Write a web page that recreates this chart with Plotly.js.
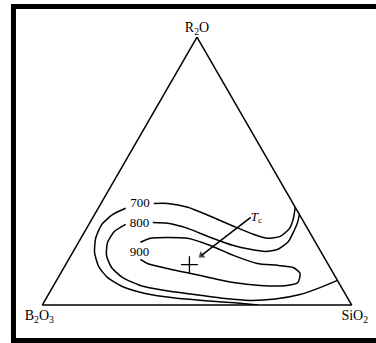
<!DOCTYPE html>
<html>
<head>
<meta charset="utf-8">
<script src="https://cdn.plot.ly/plotly-3.0.1.min.js"></script>
<style>
  html, body { margin: 0; padding: 0; background: #fff; }
  #chart { width: 376px; height: 343px; }
</style>
</head>
<body>
<div id="chart"></div>
<script>
// Compositions as mole fractions [R2O, B2O3, SiO2]

// 700 isotherm, split where its label sits
const iso700Upper = [
  [0.379, 0.450, 0.171], [0.379, 0.405, 0.216], [0.365, 0.347, 0.288],
  [0.331, 0.291, 0.378], [0.294, 0.235, 0.471], [0.264, 0.186, 0.550],
  [0.249, 0.148, 0.603], [0.256, 0.103, 0.641], [0.286, 0.058, 0.656],
  [0.323, 0.027, 0.650], [0.365, 0.000, 0.635]
];
const iso700Lower = [
  [0.361, 0.550, 0.089], [0.338, 0.603, 0.059], [0.301, 0.657, 0.042],
  [0.249, 0.703, 0.048], [0.196, 0.733, 0.071], [0.144, 0.746, 0.110],
  [0.103, 0.738, 0.159], [0.069, 0.707, 0.224], [0.043, 0.646, 0.311],
  [0.026, 0.558, 0.416], [0.015, 0.451, 0.534], [0.008, 0.374, 0.619],
  [0.000, 0.303, 0.697]
];

// 800 isotherm
const iso800Upper = [
  [0.308, 0.489, 0.203], [0.305, 0.442, 0.253], [0.286, 0.387, 0.327],
  [0.252, 0.330, 0.418], [0.222, 0.271, 0.507], [0.208, 0.224, 0.568],
  [0.200, 0.179, 0.621], [0.208, 0.134, 0.658], [0.237, 0.086, 0.677],
  [0.279, 0.046, 0.675], [0.308, 0.021, 0.671], [0.338, 0.000, 0.662]
];
const iso800Lower = [
  [0.301, 0.580, 0.119], [0.275, 0.629, 0.096], [0.234, 0.672, 0.094],
  [0.185, 0.700, 0.115], [0.140, 0.706, 0.154], [0.103, 0.690, 0.207],
  [0.073, 0.647, 0.280], [0.054, 0.576, 0.370], [0.039, 0.487, 0.474],
  [0.024, 0.397, 0.578], [0.017, 0.321, 0.663], [0.022, 0.237, 0.741],
  [0.039, 0.148, 0.813], [0.065, 0.070, 0.865], [0.092, 0.000, 0.908]
];

// 900 isotherm, a closed loop left open at its label
const iso900 = [
  [0.234, 0.566, 0.200], [0.249, 0.526, 0.225], [0.252, 0.469, 0.279],
  [0.249, 0.406, 0.345], [0.222, 0.346, 0.432], [0.185, 0.290, 0.525],
  [0.155, 0.228, 0.617], [0.148, 0.167, 0.685], [0.140, 0.119, 0.741],
  [0.118, 0.108, 0.774], [0.084, 0.132, 0.784], [0.073, 0.173, 0.754],
  [0.073, 0.260, 0.667], [0.084, 0.341, 0.575], [0.110, 0.434, 0.456],
  [0.136, 0.528, 0.336], [0.155, 0.583, 0.262], [0.170, 0.598, 0.232]
];

// Isotherm labels
const isoLabels = ['700', '800', '900'];
const isoLabelPos = [
  [0.379, 0.495, 0.126], [0.305, 0.533, 0.162], [0.196, 0.588, 0.216]
];

// Critical point Tc and the arrow pointing to it
const tcPoint = [0.151, 0.449, 0.400];
const tcArrow = [[0.327, 0.163, 0.510], [0.185, 0.393, 0.422]];
const tcText = '<i>T</i><sub>c</sub>';

const apexLabels = ['R<sub>2</sub>O', 'B<sub>2</sub>O<sub>3</sub>', 'SiO<sub>2</sub>'];

const col = i => arr => arr.map(p => p[i]);
const A = col(0), B = col(1), C = col(2);

const serif = 'Liberation Serif, Times New Roman, serif';
const ink = '#000';
const lineStyle = { color: ink, width: 1.5, shape: 'spline', smoothing: 0.6 };

function curve(pts) {
  return {
    type: 'scatterternary', mode: 'lines',
    a: A(pts), b: B(pts), c: C(pts),
    line: lineStyle, hoverinfo: 'skip'
  };
}

const traces = [
  curve(iso700Upper), curve(iso700Lower),
  curve(iso800Upper), curve(iso800Lower),
  curve(iso900),
  {
    type: 'scatterternary', mode: 'text',
    a: A(isoLabelPos), b: B(isoLabelPos), c: C(isoLabelPos),
    text: isoLabels, textposition: 'middle center',
    textfont: { family: serif, size: 13, color: ink },
    cliponaxis: false, hoverinfo: 'skip'
  },
  {
    type: 'scatterternary', mode: 'lines+markers',
    a: A(tcArrow), b: B(tcArrow), c: C(tcArrow),
    line: { color: ink, width: 1.5 },
    marker: { symbol: 'triangle-up', size: [0, 7], angle: [0, 232], color: ink,
              line: { width: 0 } },
    hoverinfo: 'skip'
  },
  {
    type: 'scatterternary', mode: 'markers',
    a: [tcPoint[0]], b: [tcPoint[1]], c: [tcPoint[2]],
    marker: { symbol: 'cross-thin', size: 12, line: { color: ink, width: 1.3 } },
    hoverinfo: 'skip'
  },
  {
    type: 'scatterternary', mode: 'text',
    a: [tcArrow[0][0]], b: [tcArrow[0][1]], c: [tcArrow[0][2]],
    text: [tcText], textposition: 'middle right',
    textfont: { family: serif, size: 13, color: ink },
    cliponaxis: false, hoverinfo: 'skip'
  }
];

function axis(title) {
  return {
    title: { text: title, font: { family: serif, size: 14, color: ink } },
    showticklabels: false, ticks: '', showgrid: false,
    showline: true, linecolor: ink, linewidth: 1.5, min: 0
  };
}

const layout = {
  width: 376, height: 343,
  margin: { l: 42, r: 24, t: 37, b: 38 },
  paper_bgcolor: '#fff',
  showlegend: false,
  hovermode: false,
  ternary: {
    sum: 1,
    bgcolor: '#fff',
    aaxis: axis(apexLabels[0]),
    baxis: axis(apexLabels[1]),
    caxis: axis(apexLabels[2])
  },
  // surrounding frame
  shapes: [{
    type: 'rect', xref: 'paper', yref: 'paper',
    x0: -0.092, x1: 1.11, y0: -0.1325, y1: 1.1138,
    line: { color: '#000', width: 5 }, fillcolor: 'rgba(0,0,0,0)'
  }]
};

Plotly.newPlot('chart', traces, layout, { staticPlot: true, displayModeBar: false });
</script>
</body>
</html>
